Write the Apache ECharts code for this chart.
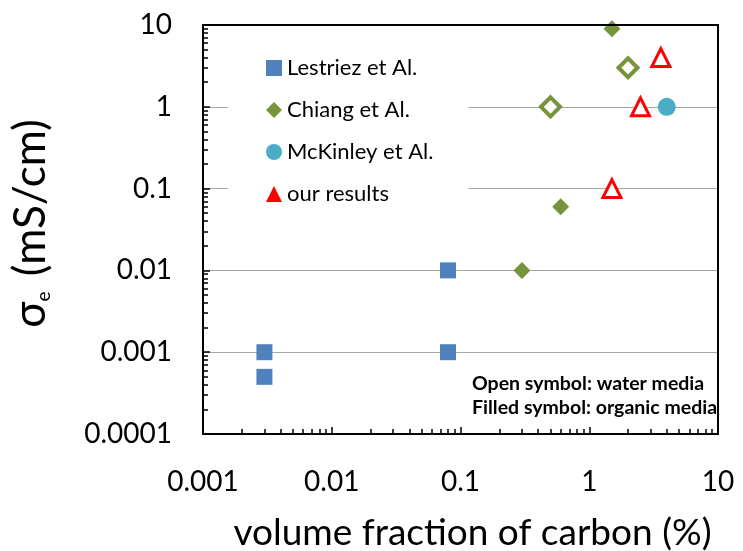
<!DOCTYPE html>
<html><head><meta charset="utf-8">
<script src="https://cdn.jsdelivr.net/npm/echarts@6/dist/echarts.min.js"></script>
<style>html,body{margin:0;padding:0;background:#fff}#c{width:743px;height:551px}</style>
</head><body><div id="c"></div>
<script>
const lestriezX = [0.003, 0.003, 0.08, 0.08];
const lestriezY = [0.001, 0.0005, 0.01, 0.001];
const chiangX = [0.3, 0.6, 1.5, 0.5, 2];
const chiangY = [0.01, 0.06, 9, 1, 3];
const chiangOpen = [false, false, false, true, true];
const mckinleyX = [4];
const mckinleyY = [1];
const oursX = [3.6, 2.5, 1.5];
const oursY = [4, 1, 0.1];
const xTickLabels = ['0.001', '0.01', '0.1', '1', '10'];
const yTickLabels = ['0.0001', '0.001', '0.01', '0.1', '1', '10'];

const BLUE = '#4F81BD', GREEN = '#77933C', TEAL = '#4BACC6', RED = '#FF0000';
const FONT = 'Lato';
const zip = (xs, ys) => xs.map((x, i) => [x, ys[i]]);

const chart = echarts.init(document.getElementById('c'), null, {renderer: 'canvas'});
chart.setOption({
  animation: false,
  textStyle: {fontFamily: FONT},
  grid: {left: 203, right: 25, top: 25, bottom: 117, show: true, borderColor: '#000', borderWidth: 2, z: 3,
    containLabel: false, outerBoundsMode: 'none'},
  xAxis: {
    type: 'log', min: 0.001, max: 10, logBase: 10,
    name: 'volume fraction of carbon (%)', nameLocation: 'middle', nameGap: 81,
    nameTextStyle: {fontFamily: FONT, fontSize: 37, color: '#000', padding: [0, 0, 0, 24]},
    axisLine: {lineStyle: {color: '#000', width: 2}},
    axisTick: {inside: true, length: 7, lineStyle: {color: '#000', width: 1.5}},
    minorTick: {show: true, splitNumber: 9, length: 5, lineStyle: {color: '#000', width: 1.5}},
    axisLabel: {fontFamily: FONT, fontSize: 28, color: '#000', margin: 34,
      formatter: v => xTickLabels.find(t => Math.abs(parseFloat(t) - v) < v * 1e-6) || ''},
    splitLine: {show: false}
  },
  yAxis: {
    type: 'log', min: 0.0001, max: 10, logBase: 10,
    name: '{s|σ}{e|e} (mS/cm)', nameLocation: 'middle', nameGap: 150, nameRotate: 90,
    nameTextStyle: {fontFamily: FONT, fontSize: 44, color: '#000', padding: [0, 0, 0, 12],
      rich: {s: {fontFamily: FONT, fontSize: 44, color: '#000'}, e: {fontFamily: FONT, fontSize: 19, color: '#000', verticalAlign: 'bottom', padding: [18, 4, 0, 0]}}},
    axisLine: {lineStyle: {color: '#000', width: 2}},
    axisTick: {inside: true, length: 7, lineStyle: {color: '#000', width: 1.5}},
    minorTick: {show: true, splitNumber: 9, length: 5, lineStyle: {color: '#000', width: 1.5}},
    axisLabel: {fontFamily: FONT, fontSize: 28, color: '#000', margin: 31,
      formatter: v => yTickLabels.find(t => Math.abs(parseFloat(t) - v) < v * 1e-6) || ''},
    splitLine: {show: true, lineStyle: {color: '#A6A6A6', width: 1}}
  },
  legend: {
    orient: 'vertical', left: 228, top: 47,
    backgroundColor: '#fff', padding: [10, 35, 10, 38],
    itemWidth: 16, itemHeight: 16, itemGap: 20,
    textStyle: {fontFamily: FONT, fontSize: 22, color: '#000'},
    z: 10,
    data: [
      {name: 'Lestriez et Al.', icon: 'rect'},
      {name: 'Chiang et Al.', icon: 'diamond'},
      {name: 'McKinley et Al.', icon: 'circle'},
      {name: 'our results', icon: 'triangle'}
    ]
  },
  graphic: [
    {type: 'text', left: 472, top: 374, z: 20, style: {text: 'Open symbol: water media', font: 'bold 19.5px Lato', fill: '#000'}},
    {type: 'text', left: 472, top: 398, z: 20, style: {text: 'Filled symbol: organic media', font: 'bold 19.5px Lato', fill: '#000'}}
  ],
  series: [
    {name: 'Lestriez et Al.', type: 'scatter', symbol: 'rect', symbolSize: 16,
      itemStyle: {color: BLUE, opacity: 1}, data: zip(lestriezX, lestriezY)},
    {name: 'Chiang et Al.', type: 'scatter', symbol: 'diamond', symbolSize: 17,
      itemStyle: {color: GREEN, opacity: 1},
      data: zip(chiangX, chiangY).map((p, i) => chiangOpen[i]
        ? {value: p, symbolSize: 19, itemStyle: {color: '#fff', borderColor: GREEN, borderWidth: 4}}
        : {value: p})},
    {name: 'McKinley et Al.', type: 'scatter', symbol: 'circle', symbolSize: 18,
      itemStyle: {color: TEAL, opacity: 1}, data: zip(mckinleyX, mckinleyY)},
    {name: 'our results', type: 'scatter', symbol: 'triangle', symbolSize: 18,
      itemStyle: {color: RED, opacity: 1},
      data: zip(oursX, oursY).map(p => ({value: p, itemStyle: {color: '#fff', borderColor: RED, borderWidth: 3}}))}
  ]
});
</script></body></html>
